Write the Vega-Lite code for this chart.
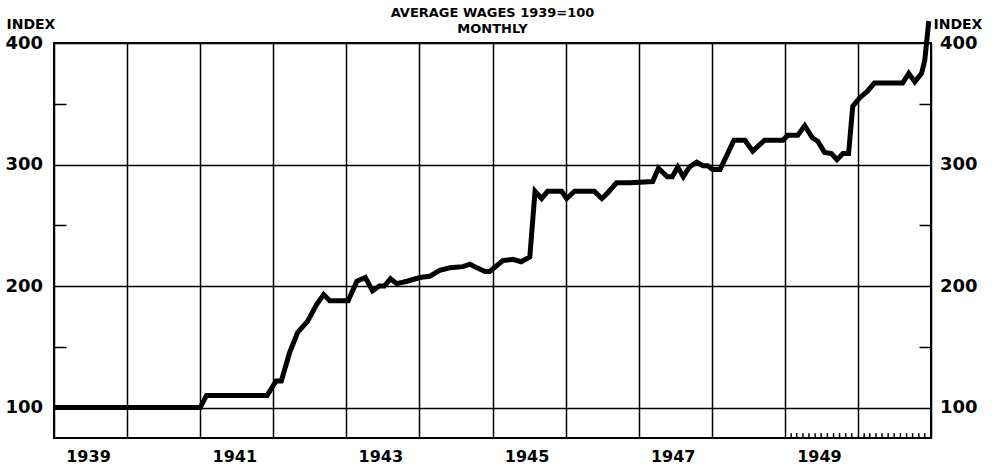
{
  "$schema": "https://vega.github.io/schema/vega-lite/v6.json",
  "width": 877,
  "height": 395,
  "autosize": {"type": "none"},
  "padding": {"left": 54, "top": 43, "right": 61, "bottom": 28},
  "background": "white",
  "title": {
    "text": "AVERAGE WAGES 1939=100",
    "subtitle": "MONTHLY",
    "anchor": "middle",
    "font": "DejaVu Sans",
    "fontSize": 13,
    "fontWeight": "bold",
    "color": "black",
    "subtitleFont": "DejaVu Sans",
    "subtitleFontSize": 13,
    "subtitleFontWeight": "bold",
    "subtitleColor": "black",
    "subtitlePadding": 3,
    "offset": -22
  },
  "datasets": {
    "wages": [
      {"date": "1939-01-01", "index": 100},
      {"date": "1941-01-01", "index": 100},
      {"date": "1941-02-01", "index": 110},
      {"date": "1941-12-01", "index": 110},
      {"date": "1942-01-15", "index": 122},
      {"date": "1942-02-10", "index": 122},
      {"date": "1942-03-23", "index": 145},
      {"date": "1942-05-03", "index": 162},
      {"date": "1942-06-21", "index": 171},
      {"date": "1942-08-06", "index": 185},
      {"date": "1942-09-10", "index": 193},
      {"date": "1942-10-10", "index": 188},
      {"date": "1943-01-10", "index": 188},
      {"date": "1943-02-23", "index": 204},
      {"date": "1943-04-06", "index": 207},
      {"date": "1943-05-12", "index": 196},
      {"date": "1943-06-15", "index": 200},
      {"date": "1943-07-10", "index": 200},
      {"date": "1943-08-10", "index": 206},
      {"date": "1943-09-10", "index": 202},
      {"date": "1943-11-01", "index": 204},
      {"date": "1944-01-03", "index": 207},
      {"date": "1944-02-21", "index": 208},
      {"date": "1944-04-12", "index": 213},
      {"date": "1944-06-01", "index": 215},
      {"date": "1944-08-06", "index": 216},
      {"date": "1944-09-10", "index": 218},
      {"date": "1944-10-15", "index": 215},
      {"date": "1944-11-24", "index": 212},
      {"date": "1944-12-18", "index": 212},
      {"date": "1945-02-21", "index": 221},
      {"date": "1945-04-12", "index": 222},
      {"date": "1945-05-24", "index": 220},
      {"date": "1945-07-06", "index": 224},
      {"date": "1945-08-01", "index": 278},
      {"date": "1945-09-03", "index": 272},
      {"date": "1945-10-03", "index": 278},
      {"date": "1945-12-12", "index": 278},
      {"date": "1946-01-06", "index": 272},
      {"date": "1946-02-15", "index": 278},
      {"date": "1946-05-24", "index": 278},
      {"date": "1946-07-01", "index": 272},
      {"date": "1946-08-01", "index": 277},
      {"date": "1946-09-12", "index": 285},
      {"date": "1946-11-18", "index": 285},
      {"date": "1947-03-12", "index": 286},
      {"date": "1947-04-10", "index": 297},
      {"date": "1947-05-24", "index": 290},
      {"date": "1947-06-18", "index": 290},
      {"date": "1947-07-15", "index": 298},
      {"date": "1947-08-12", "index": 290},
      {"date": "1947-09-12", "index": 298},
      {"date": "1947-10-18", "index": 302},
      {"date": "1947-11-18", "index": 299},
      {"date": "1947-12-12", "index": 299},
      {"date": "1948-01-06", "index": 296},
      {"date": "1948-02-12", "index": 296},
      {"date": "1948-04-21", "index": 320},
      {"date": "1948-06-15", "index": 320},
      {"date": "1948-07-24", "index": 311},
      {"date": "1948-09-21", "index": 320},
      {"date": "1948-12-21", "index": 320},
      {"date": "1949-01-15", "index": 324},
      {"date": "1949-03-06", "index": 324},
      {"date": "1949-04-10", "index": 332},
      {"date": "1949-05-18", "index": 322},
      {"date": "1949-06-15", "index": 319},
      {"date": "1949-07-18", "index": 310},
      {"date": "1949-08-21", "index": 309},
      {"date": "1949-09-18", "index": 304},
      {"date": "1949-10-18", "index": 309},
      {"date": "1949-11-15", "index": 309},
      {"date": "1949-12-06", "index": 348},
      {"date": "1950-01-10", "index": 355},
      {"date": "1950-02-15", "index": 360},
      {"date": "1950-03-24", "index": 367},
      {"date": "1950-08-12", "index": 367},
      {"date": "1950-09-12", "index": 375},
      {"date": "1950-10-12", "index": 368},
      {"date": "1950-11-15", "index": 375},
      {"date": "1950-12-01", "index": 386},
      {"date": "1950-12-21", "index": 418}
    ],
    "monthTicks": [
      {"date": "1949-02-01"}, {"date": "1949-03-01"}, {"date": "1949-04-01"}, {"date": "1949-05-01"},
      {"date": "1949-06-01"}, {"date": "1949-07-01"}, {"date": "1949-08-01"}, {"date": "1949-09-01"},
      {"date": "1949-10-01"}, {"date": "1949-11-01"}, {"date": "1949-12-01"}, {"date": "1950-02-01"},
      {"date": "1950-03-01"}, {"date": "1950-04-01"}, {"date": "1950-05-01"}, {"date": "1950-06-01"},
      {"date": "1950-07-01"}, {"date": "1950-08-01"}, {"date": "1950-09-01"}, {"date": "1950-10-01"},
      {"date": "1950-11-01"}, {"date": "1950-12-01"}
    ]
  },
  "encoding": {
    "x": {
      "field": "date", "type": "temporal",
      "scale": {"type": "utc", "domain": [{"year": 1939, "month": 1, "date": 1, "utc": true}, {"year": 1951, "month": 1, "date": 1, "utc": true}]},
      "axis": {
        "orient": "bottom",
        "title": null,
        "values": [
          {"year": 1939, "month": 1, "date": 1, "utc": true}, {"year": 1940, "month": 1, "date": 1, "utc": true},
          {"year": 1941, "month": 1, "date": 1, "utc": true}, {"year": 1942, "month": 1, "date": 1, "utc": true},
          {"year": 1943, "month": 1, "date": 1, "utc": true}, {"year": 1944, "month": 1, "date": 1, "utc": true},
          {"year": 1945, "month": 1, "date": 1, "utc": true}, {"year": 1946, "month": 1, "date": 1, "utc": true},
          {"year": 1947, "month": 1, "date": 1, "utc": true}, {"year": 1948, "month": 1, "date": 1, "utc": true},
          {"year": 1949, "month": 1, "date": 1, "utc": true}, {"year": 1950, "month": 1, "date": 1, "utc": true},
          {"year": 1951, "month": 1, "date": 1, "utc": true}
        ],
        "labelExpr": "(utcyear(datum.value) % 2 === 1 && utcyear(datum.value) < 1951) ? ('' + utcyear(datum.value)) : ''",
        "labelOffset": 34,
        "labelFlush": false,
        "labelOverlap": false,
        "labelFont": "DejaVu Sans",
        "labelFontSize": 16,
        "labelFontWeight": "bold",
        "labelColor": "black",
        "labelPadding": 10,
        "ticks": false,
        "domain": false,
        "grid": true,
        "gridColor": "black",
        "gridWidth": 1.5,
        "gridOpacity": 1
      }
    }
  },
  "layer": [
    {
      "data": {"name": "monthTicks"},
      "mark": {"type": "rule", "color": "black", "strokeWidth": 1.5},
      "encoding": {
        "y": {"datum": 75, "type": "quantitative", "axis": null},
        "y2": {"datum": 79}
      }
    },
    {
      "data": {"name": "wages"},
      "mark": {"type": "line", "color": "black", "strokeWidth": 5, "strokeJoin": "miter", "strokeMiterLimit": 3},
      "encoding": {
        "y": {
          "field": "index", "type": "quantitative",
          "scale": {"domain": [75, 400], "nice": false, "zero": false},
          "axis": {
            "orient": "left",
            "values": [100, 150, 200, 250, 300, 350, 400],
            "title": "INDEX",
            "titleAngle": 0,
            "titleAlign": "left",
            "titleBaseline": "middle",
            "titleX": -48,
            "titleY": -19,
            "titleFont": "DejaVu Sans",
            "titleFontSize": 14,
            "titleFontWeight": "bold",
            "titleColor": "black",
            "labelExpr": "datum.value % 100 === 0 ? datum.label : ''",
            "labelFont": "DejaVu Sans",
            "labelFontSize": 18,
            "labelFontWeight": "bold",
            "labelColor": "black",
            "labelAlign": "left",
            "labelBaseline": "middle",
            "labelPadding": 61,
            "labelFlush": false,
            "labelOverlap": false,
            "tickSize": -12,
            "tickColor": "black",
            "tickWidth": 1.5,
            "tickOpacity": {"condition": {"test": "datum.value % 100 !== 0", "value": 1}, "value": 0},
            "domain": false,
            "grid": true,
            "gridColor": "black",
            "gridWidth": 1.5,
            "gridOpacity": {"condition": {"test": "datum.value % 100 === 0", "value": 1}, "value": 0}
          }
        }
      }
    },
    {
      "data": {"name": "wages"},
      "mark": {"type": "line", "strokeOpacity": 0},
      "encoding": {
        "y": {
          "field": "index", "type": "quantitative",
          "axis": {
            "orient": "right",
            "values": [100, 150, 200, 250, 300, 350, 400],
            "title": "INDEX",
            "titleAngle": 0,
            "titleAlign": "left",
            "titleBaseline": "middle",
            "titleX": 2,
            "titleY": -19,
            "titleFont": "DejaVu Sans",
            "titleFontSize": 14,
            "titleFontWeight": "bold",
            "titleColor": "black",
            "labelExpr": "datum.value % 100 === 0 ? datum.label : ''",
            "labelFont": "DejaVu Sans",
            "labelFontSize": 18,
            "labelFontWeight": "bold",
            "labelColor": "black",
            "labelAlign": "right",
            "labelBaseline": "middle",
            "labelPadding": 58,
            "labelFlush": false,
            "labelOverlap": false,
            "tickSize": -12,
            "tickColor": "black",
            "tickWidth": 1.5,
            "tickOpacity": {"condition": {"test": "datum.value % 100 !== 0", "value": 1}, "value": 0},
            "domain": false,
            "grid": false
          }
        }
      }
    }
  ],
  "config": {
    "view": {"stroke": "black", "strokeWidth": 2},
    "font": "DejaVu Sans"
  }
}
